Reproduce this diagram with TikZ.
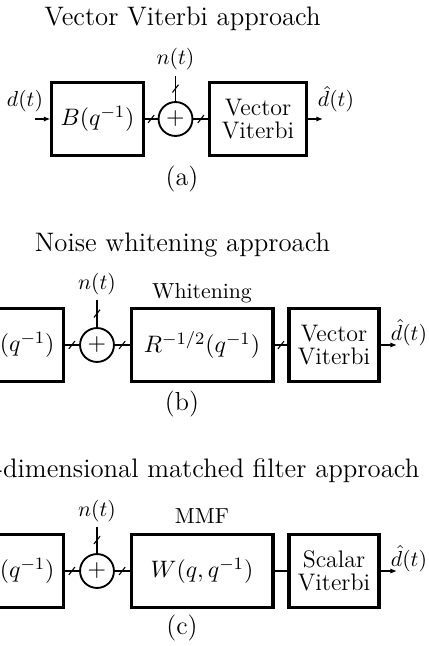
\documentclass[tikz,border=0pt]{standalone}
\usetikzlibrary{arrows.meta}
\tikzset{
  blockbox/.style={rectangle, draw, line width=1.4pt, minimum height=33.6pt,
    inner sep=2pt, align=center, font=\fontsize{11}{10.5}\selectfont},
  sumnode/.style={circle, draw, line width=0.85pt, minimum size=15.6pt, inner sep=0pt,
    font=\fontsize{11}{11}\selectfont},
  wire/.style={line width=0.75pt},
  sigarrow/.style={wire, -{Latex[length=3pt,width=2.4pt]}},
  titlelabel/.style={font=\fontsize{12.3}{15}\selectfont, anchor=base},
  partlabel/.style={font=\large, anchor=base, inner sep=0pt},
  siglabel/.style={anchor=base, inner sep=0pt},
  busmark/.pic={\draw[line width=0.5pt] (-1.4pt,-1.8pt) -- (1.4pt,1.8pt);},
}
\begin{document}
\begin{tikzpicture}[x=0.46pt,y=-0.46pt]
  \useasboundingbox (0,0) rectangle (428,646);
  \clip (0,0) rectangle (428,646);

  % (a) vector Viterbi
  \node[titlelabel] (ta) at (182.5,26) {Vector Viterbi approach};
  \node[blockbox, minimum width=41.9pt] (ba) at (97.5,119) {$B(q^{-1})$};
  \node[sumnode] (sa) at (175.5,119) {$+$};
  \node[blockbox, minimum width=44.2pt] (va) at (258,119) {Vector\\Viterbi};
  \coordinate (ina) at (35,119);
  \coordinate (outa) at (323,119);
  \coordinate (nta) at (175.5,76);
  \node[siglabel] (da) at (25,107) {$d(t)$};
  \node[siglabel] (na) at (175.5,65) {$n(t)$};
  \node[siglabel] (ea) at (336,107) {$\hat{d}(t)$};
  \node[partlabel] (la) at (182,186) {(a)};
  \draw[sigarrow] (ina) -- (ba);
  \draw[wire] (ba) -- pic[pos=0.5]{busmark} (sa);
  \draw[wire] (nta) -- pic[pos=0.5]{busmark} (sa);
  \draw[wire] (sa) -- pic[pos=0.5]{busmark} (va);
  \draw[sigarrow] (va) -- (outa);

  % (b) noise whitening
  \node[titlelabel] (tb) at (182.5,252) {Noise whitening approach};
  \node[blockbox, minimum width=41.9pt] (bb) at (17.5,345) {$B(q^{-1})$};
  \node[sumnode] (sb) at (97,345) {$+$};
  \node[blockbox, minimum width=65.3pt] (wb) at (202,345) {$R^{-1/2}(q^{-1})$};
  \node[blockbox, minimum width=41.4pt] (vb) at (334,345) {Vector\\Viterbi};
  \coordinate (outb) at (397,345);
  \coordinate (ntb) at (97,300);
  \node[siglabel] (nb) at (97,290) {$n(t)$};
  \node[siglabel] (wl) at (202,298) {Whitening};
  \node[siglabel] (eb) at (409,340) {$\hat{d}(t)$};
  \node[partlabel] (lb) at (182,410) {(b)};
  \draw[wire] (bb) -- pic[pos=0.5]{busmark} (sb);
  \draw[wire] (ntb) -- pic[pos=0.5]{busmark} (sb);
  \draw[wire] (sb) -- pic[pos=0.5]{busmark} (wb);
  \draw[wire] (wb) -- pic[pos=0.5]{busmark} (vb);
  \draw[sigarrow] (vb) -- (outb);

  % (c) matched filter
  \node[titlelabel, anchor=base east] (tc) at (427,477) {Multi-dimensional matched filter approach};
  \node[blockbox, minimum width=41.9pt] (bc) at (17.5,571) {$B(q^{-1})$};
  \node[sumnode] (sc) at (97,571) {$+$};
  \node[blockbox, minimum width=65.3pt] (mc) at (202,571) {$W(q,q^{-1})$};
  \node[blockbox, minimum width=41.4pt] (vc) at (334,571) {Scalar\\Viterbi};
  \coordinate (outc) at (397,571);
  \coordinate (ntc) at (97,527);
  \node[siglabel] (nc) at (97,516) {$n(t)$};
  \node[siglabel] (ml) at (202,523) {MMF};
  \node[siglabel] (ec) at (409,566) {$\hat{d}(t)$};
  \node[partlabel] (lc) at (182,634) {(c)};
  \draw[wire] (bc) -- pic[pos=0.5]{busmark} (sc);
  \draw[wire] (ntc) -- pic[pos=0.5]{busmark} (sc);
  \draw[wire] (sc) -- pic[pos=0.5]{busmark} (mc);
  \draw[wire] (mc) -- (vc);
  \draw[sigarrow] (vc) -- (outc);
\end{tikzpicture}
\end{document}
